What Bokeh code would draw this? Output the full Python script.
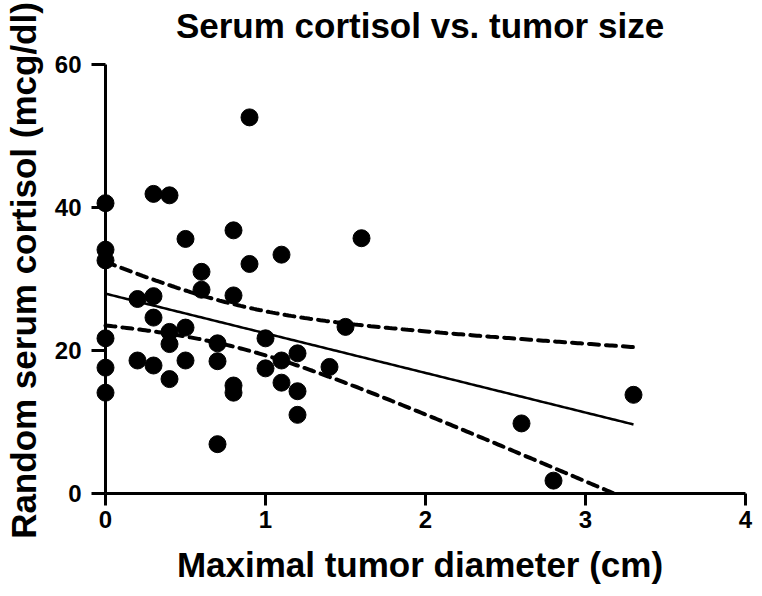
import numpy as np
from bokeh.plotting import figure
from bokeh.models import Range1d, FixedTicker
from bokeh.embed import file_html
from bokeh.resources import INLINE

# Maximal tumor diameter (cm)
diameter = [0, 0, 0, 0, 0, 0,
            0.2, 0.2,
            0.3, 0.3, 0.3, 0.3,
            0.4, 0.4, 0.4, 0.4,
            0.5, 0.5, 0.5,
            0.6, 0.6,
            0.7, 0.7, 0.7,
            0.8, 0.8, 0.8, 0.8,
            0.9, 0.9,
            1.0, 1.0,
            1.1, 1.1, 1.1,
            1.2, 1.2, 1.2,
            1.4, 1.5, 1.6, 2.6, 2.8, 3.3]
# Random serum cortisol (mcg/dl)
cortisol = [40.6, 34.1, 32.6, 21.7, 17.6, 14.1,
            27.2, 18.6,
            41.9, 27.6, 24.6, 17.9,
            41.7, 22.6, 20.9, 16.0,
            35.6, 23.2, 18.6,
            31.0, 28.5,
            21.0, 18.5, 6.9,
            36.8, 27.7, 15.1, 14.1,
            52.6, 32.1,
            21.7, 17.5,
            33.4, 18.6, 15.5,
            19.6, 14.3, 11.0,
            17.7, 23.3, 35.7, 9.8, 1.8, 13.8]

x_ticks = [0, 1, 2, 3, 4]
y_ticks = [0, 20, 40, 60]
t_crit = 2.018  # t(0.975, df=42)

xa = np.array(diameter, dtype=float)
ya = np.array(cortisol, dtype=float)
n = len(xa)
slope, intercept = np.polyfit(xa, ya, 1)
xm = xa.mean()
sxx = ((xa - xm) ** 2).sum()
resid = ya - (intercept + slope * xa)
s = np.sqrt((resid ** 2).sum() / (n - 2))
xg = np.linspace(xa.min(), xa.max(), 200)
yfit = intercept + slope * xg
se = s * np.sqrt(1.0 / n + (xg - xm) ** 2 / sxx)
upper = yfit + t_crit * se
lower = yfit - t_crit * se

FONT = "Liberation Sans"

# layout: frame 447 px tall, 60 units over 430 px -> a little headroom above 60
TOP_BORDER = 46
y_top = 60 + (63 - TOP_BORDER) * 60 / 430.0

p = figure(width=754, height=594, output_backend="svg", toolbar_location=None,
           x_range=Range1d(-0.06875, 4.0), y_range=Range1d(0, y_top),
           title="Serum cortisol vs. tumor size",
           min_border_left=94, min_border_right=9, min_border_top=TOP_BORDER,
           min_border_bottom=101)

p.title.text_font = FONT
p.title.text_font_style = "bold"
p.title.text_font_size = "35px"
p.title.text_color = "black"
p.title.align = "center"
p.title.offset = 0
p.title.standoff = 6

p.grid.visible = False
p.outline_line_color = None
p.background_fill_color = "white"

for ax in (p.xaxis[0], p.yaxis[0]):
    ax.axis_line_width = 3
    ax.axis_line_color = "black"
    ax.major_tick_line_width = 3
    ax.major_tick_line_color = "black"
    ax.minor_tick_line_color = None
    ax.major_label_text_font = FONT
    ax.major_label_text_font_style = "bold"
    ax.major_label_text_font_size = "24px"
    ax.major_label_text_color = "black"
    ax.axis_label_text_font = FONT
    ax.axis_label_text_font_style = "bold"
    ax.axis_label_text_font_size = "35px"
    ax.axis_label_text_color = "black"

p.xaxis.major_tick_in = 0
p.xaxis.major_tick_out = 12

# y axis line drawn at x = 0 from the lowest to the highest tick;
# ticks reach from the frame edge to it
p.yaxis.axis_line_color = None
p.yaxis.major_tick_in = 11
p.yaxis.major_tick_out = 3
p.segment(x0=[0], y0=[min(y_ticks)], x1=[0], y1=[max(y_ticks)],
          line_color="black", line_width=3)

p.xaxis.ticker = FixedTicker(ticks=x_ticks)
p.yaxis.ticker = FixedTicker(ticks=y_ticks)
p.xaxis.bounds = (0, 4)
p.xaxis.axis_label = "Maximal tumor diameter (cm)"
p.yaxis.axis_label = "Random serum cortisol (mcg/dl)"
p.xaxis.major_label_standoff = 5
p.yaxis.major_label_standoff = 10
p.xaxis.axis_label_standoff = 14
p.yaxis.axis_label_standoff = 9

p.line(xg, upper, line_color="black", line_width=4, line_dash="10 7", line_cap="round")
p.line(xg, lower, line_color="black", line_width=4, line_dash="10 7", line_cap="round")
p.line(xg, yfit, line_color="black", line_width=2.5)
p.scatter(diameter, cortisol, marker="circle", size=17, fill_color="black", line_color="black")

open("out.html", "w").write(file_html(p, INLINE))
